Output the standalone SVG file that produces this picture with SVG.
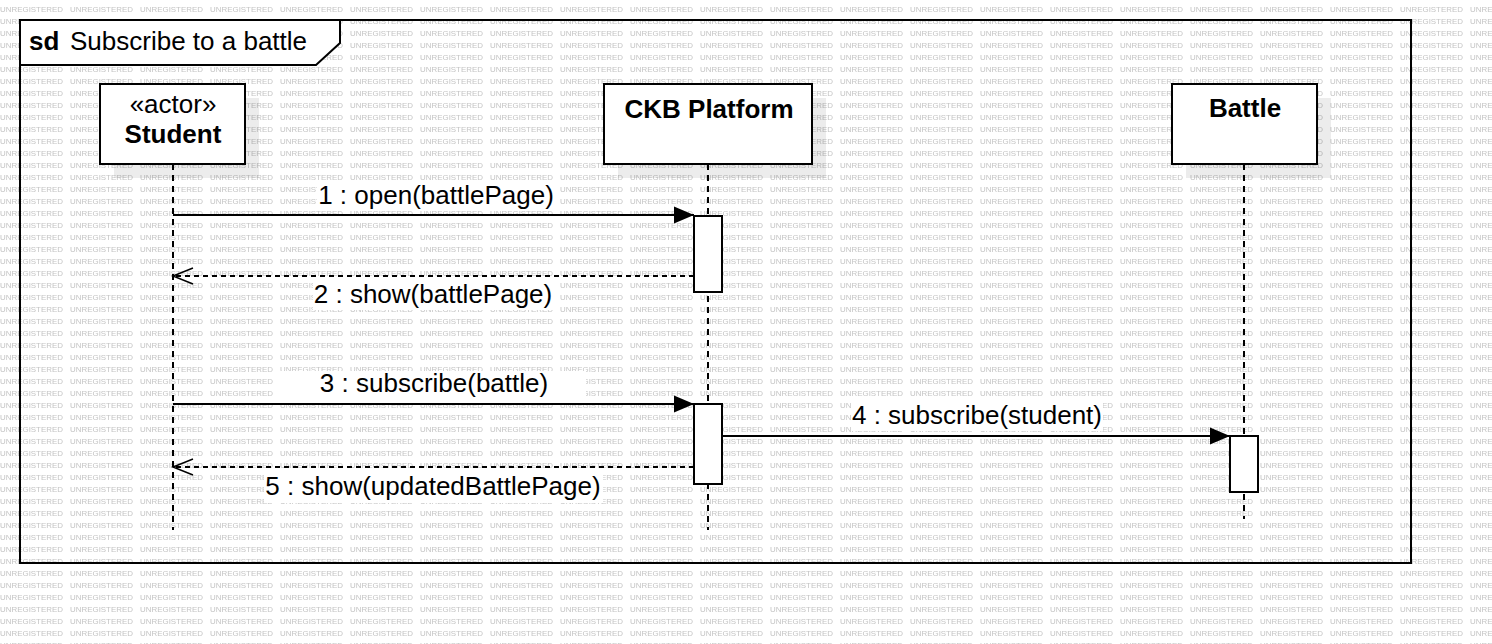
<svg xmlns="http://www.w3.org/2000/svg" width="1492" height="644" viewBox="0 0 1492 644">
<defs>
<style>
text{font-family:"Liberation Sans",Arial,sans-serif;fill:#000}
.t{font-size:26px}
.b{font-weight:bold}
.m{text-anchor:middle}
.box{fill:#fff;stroke:#000;stroke-width:2}
.sh{fill:#000;fill-opacity:0.075;stroke:none}
.life{stroke:#000;stroke-width:2;stroke-dasharray:6 5;fill:none}
.act{fill:#fff;stroke:#000;stroke-width:2}
.msg{stroke:#000;stroke-width:2;fill:none}
.ret{stroke:#000;stroke-width:2;fill:none;stroke-dasharray:5 4}
.lbg{fill:#fff;stroke:none}
.wm{font-size:7.5px;fill:#c4c4c4}
</style>
<pattern id="wmp" width="70" height="12" patternUnits="userSpaceOnUse">
<text class="wm" x="0" y="11.7" textLength="63" lengthAdjust="spacingAndGlyphs">UNREGISTERED</text>
</pattern>
<marker id="filled" markerUnits="userSpaceOnUse" markerWidth="22" markerHeight="20" refX="20" refY="8.5" orient="auto" overflow="visible">
<path d="M0,0 L20,8.5 L0,17 Z" fill="#000" stroke="none"/>
</marker>
<marker id="open" markerUnits="userSpaceOnUse" markerWidth="22" markerHeight="20" refX="20" refY="8" orient="auto" overflow="visible">
<path d="M0,0 L20,8 L0,16" fill="none" stroke="#000" stroke-width="1.5" stroke-dasharray="none"/>
</marker>
</defs>
<rect x="0" y="0" width="1492" height="644" fill="#fff"/>
<rect x="0" y="0" width="1492" height="644" fill="url(#wmp)"/>

<g id="frame">
<rect x="20" y="20" width="1391" height="543" fill="none" stroke="#000" stroke-width="2"/>
<polygon points="20,20 340,20 340,43 316,65 20,65" fill="#fff" stroke="#000" stroke-width="2"/>
<text class="t b" x="29" y="50">sd</text>
<text class="t" x="70" y="50">Subscribe to a battle</text>
</g>

<g id="student">
<rect class="sh" x="114" y="98" width="145" height="80"/>
<line class="life" x1="173" y1="164" x2="173" y2="530"/>
<rect class="box" x="100" y="84" width="145" height="80"/>
<text class="t m" x="173" y="113">«actor»</text>
<text class="t b m" x="173" y="143">Student</text>
</g>

<g id="ckb-platform">
<rect class="sh" x="618" y="98" width="208" height="80"/>
<line class="life" x1="708" y1="164" x2="708" y2="530"/>
<rect class="box" x="604" y="84" width="208" height="80"/>
<text class="t b m" x="709" y="118">CKB Platform</text>
<rect class="act" x="694" y="216" width="28" height="76"/>
<rect class="act" x="694" y="404" width="28" height="80"/>
</g>

<g id="battle">
<rect class="sh" x="1186" y="98" width="145" height="80"/>
<line class="life" x1="1244" y1="164" x2="1244" y2="519"/>
<rect class="box" x="1172" y="84" width="145" height="80"/>
<text class="t b m" x="1245" y="117">Battle</text>
<rect class="act" x="1230" y="436" width="28" height="56"/>
</g>

<g id="connectors">
<g id="msg1">
<line class="msg" x1="173" y1="215" x2="694" y2="215" marker-end="url(#filled)"/>
<rect class="lbg" x="317" y="183" width="238" height="25"/>
<text class="t m" x="436" y="204">1 : open(battlePage)</text>
</g>
<g id="msg2">
<line class="ret" x1="694" y1="276" x2="173" y2="276" marker-end="url(#open)"/>
<rect class="lbg" x="313" y="283" width="241" height="27"/>
<text class="t m" x="433" y="303">2 : show(battlePage)</text>
</g>
<g id="msg3">
<line class="msg" x1="173" y1="404" x2="694" y2="404" marker-end="url(#filled)"/>
<rect class="lbg" x="278" y="371" width="308" height="27"/>
<text class="t m" x="434" y="392">3 : subscribe(battle)</text>
</g>
<g id="msg4">
<line class="msg" x1="722" y1="436" x2="1230" y2="436" marker-end="url(#filled)"/>
<rect class="lbg" x="851" y="403" width="252" height="28"/>
<text class="t m" x="977" y="424">4 : subscribe(student)</text>
</g>
<g id="msg5">
<line class="ret" x1="694" y1="467" x2="173" y2="467" marker-end="url(#open)"/>
<rect class="lbg" x="264" y="475" width="339" height="28"/>
<text class="t m" x="433" y="495">5 : show(updatedBattlePage)</text>
</g>
</g>
</svg>
